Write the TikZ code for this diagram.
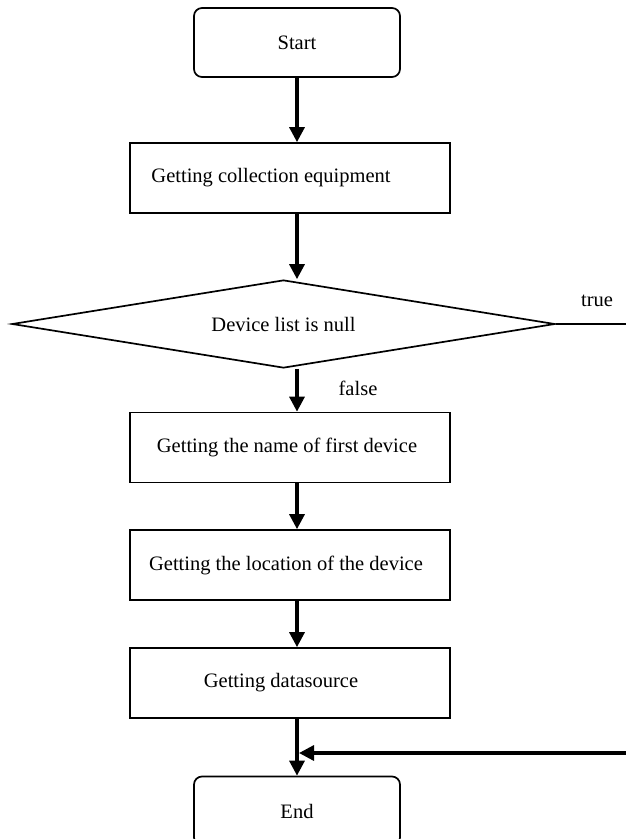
\documentclass[tikz,border=0pt]{standalone}
\usepackage{fontspec}
\setmainfont{Liberation Serif}
\usetikzlibrary{shapes.geometric,arrows.meta}
\begin{document}
\begin{tikzpicture}[x=1pt,y=-1pt,
  every node/.style={font=\fontsize{20.5}{24}\selectfont},
  rbox/.style={draw,line width=1.7pt,rounded corners=8pt,minimum width=206pt,minimum height=69pt,inner sep=0pt},
  pbox/.style={draw,line width=1.7pt,minimum width=320pt,minimum height=70pt,inner sep=0pt},
  dbox/.style={draw,line width=1.7pt,diamond,aspect=6.17,minimum width=543pt,minimum height=88pt,inner sep=0pt},
  flow/.style={line width=3.2pt,-{Triangle[width=15pt,length=15pt]}},
  plain/.style={line width=1.7pt}]
\useasboundingbox (0,0) rectangle (626,839);
\node[rbox] (start) at (297,42.5) {Start};
\node[pbox] (b1) at (290,178) {\hspace*{-38pt}Getting collection equipment};
\node[dbox] (dia) at (283.5,324) {Device list is null};
\node[pbox] (b2) at (290,447.5) {\hspace*{-6pt}Getting the name of first device};
\node[pbox] (b3) at (290,565) {\hspace*{-8pt}Getting the location of the device};
\node[pbox] (b4) at (290,683) {\hspace*{-18pt}Getting datasource};
\node[rbox] (end) at (297,811) {End};
\node (ttrue) at (597,301) {true};
\node (tfalse) at (358,388) {false};
\coordinate (rt) at (626,324);
\coordinate (rin) at (626,753);
\draw[flow] (start.south) -- (start.south |- b1.north);
\draw[flow] (start.south |- b1.south) -- (start.south |- dia.north);
\draw[plain] (dia.east) -- (rt);
\draw[flow] (start.south |- dia.south) -- (start.south |- b2.north);
\draw[flow] (start.south |- b2.south) -- (start.south |- b3.north);
\draw[flow] (start.south |- b3.south) -- (start.south |- b4.north);
\draw[flow] (start.south |- b4.south) -- (end.north);
\draw[flow] (rin) -- ([xshift=2pt]start.south |- rin);
\end{tikzpicture}
\end{document}
